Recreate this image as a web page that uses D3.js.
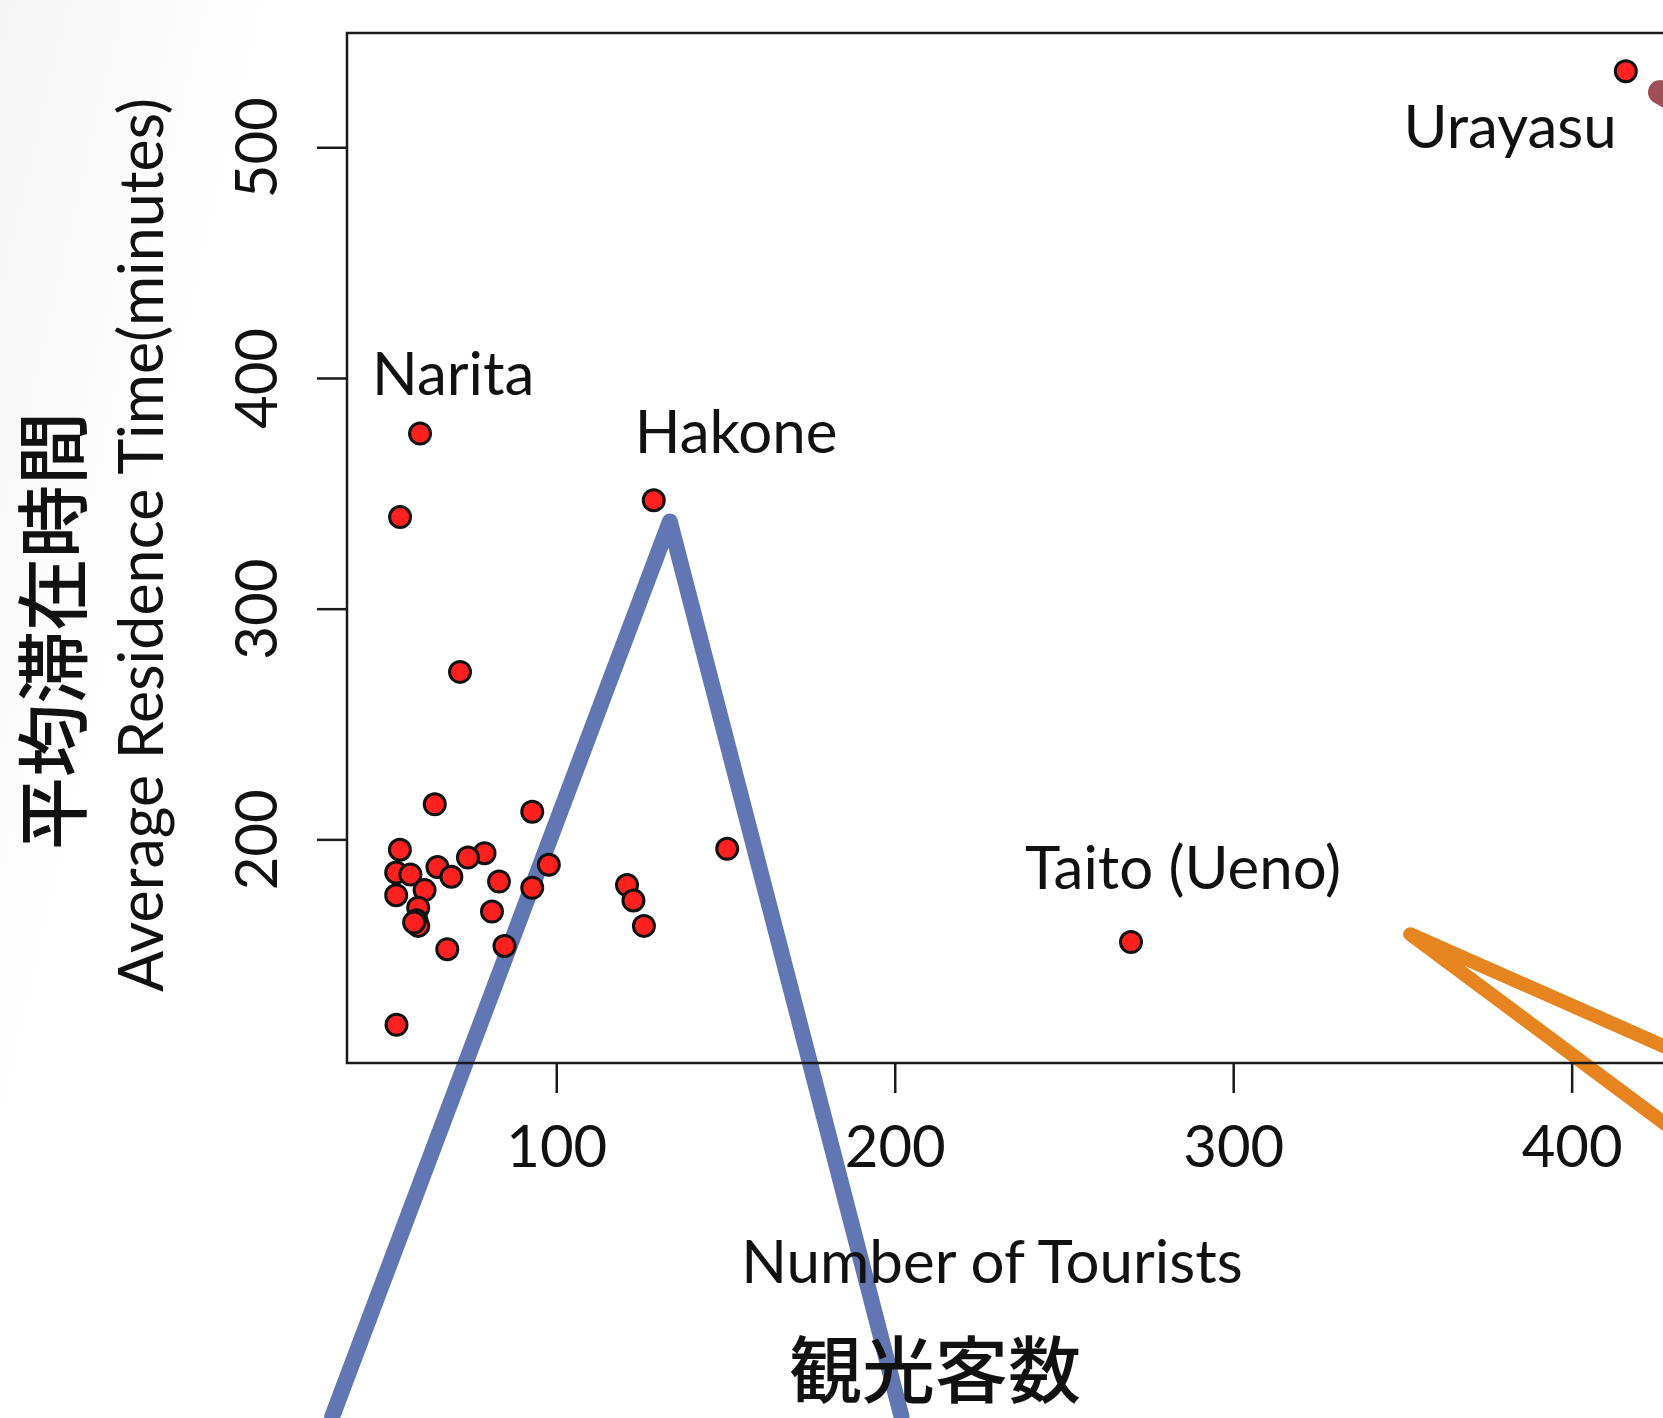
<!DOCTYPE html>
<html>
<head>
<meta charset="utf-8">
<script src="https://cdn.jsdelivr.net/npm/d3@7"></script>
<style>
  html, body { margin: 0; padding: 0; background: #fff; overflow: hidden; }
</style>
</head>
<body>
<div id="chart"></div>
<script>
// tourists (x) and average residence time in minutes (y)
const tourists = [416, 128.8, 59.75, 53.85, 71.56, 269.8, 150.5,
    64.1, 92.9, 53.8, 78.8, 73.9, 64.9, 97.8, 52.7, 56.9, 69, 83.1, 92.9, 61.1, 52.7,
    120.9, 122.8, 125.9, 59.2, 58.7, 59.2, 58, 81, 67.8, 84.7, 52.8];
const residence = [533, 347, 375.9, 339.7, 272.6, 155.5, 195.9,
    215.2, 212, 195.5, 194, 192.1, 188, 189, 185.6, 184.8, 183.8, 181.7, 179, 178, 175.8,
    180.2, 173.5, 162.5, 170.4, 164.9, 162.5, 164, 168.7, 152.4, 153.8, 119.6];
const placeNames = ['Urayasu', 'Hakone', 'Narita', '', '', 'Taito (Ueno)'];

const xTicks = [100, 200, 300, 400];
const yTicks = [200, 300, 400, 500];

// overlay strokes, in data units
const blueArrowX = [33.8, 133.55, 202.0];
const blueArrowY = [-50.2, 337.8, -50.2];
const orangeArrowX = [440, 352.3, 440];
const orangeArrowY = [102.1, 158.9, 63.2];
const redArrowX = [426.1, 437.9];
const redArrowY = [523.9, 514.0];

const W = 1663, H = 1418;
const plot = { left: 347, top: 33, bottom: 1063, right: 1675 };
const font = 'Lato, "Open Sans", sans-serif';
const cjk = '"Noto Sans CJK JP", sans-serif';

// R style 4% padding on the ranges
function padded(vals) {
    const [lo, hi] = d3.extent(vals);
    const p = (hi - lo) * 0.04;
    return [lo - p, hi + p];
}

const x = d3.scaleLinear().domain(padded(tourists)).range([plot.left, plot.right]);
const y = d3.scaleLinear().domain(padded(residence)).range([plot.bottom, plot.top]);

const svg = d3.select('#chart').append('svg')
    .attr('width', W)
    .attr('height', H)
    .style('display', 'block');

const defs = svg.append('defs');
const grad = defs.append('linearGradient')
    .attr('id', 'bg')
    .attr('x1', '0').attr('y1', '0').attr('x2', '1').attr('y2', '0.2');
grad.append('stop').attr('offset', '0').attr('stop-color', '#f5f5f5');
grad.append('stop').attr('offset', '0.16').attr('stop-color', '#ffffff');
svg.append('rect').attr('width', W).attr('height', H).attr('fill', 'url(#bg)');

// overlay lines sit underneath the chart
const line = d3.line().x(d => x(d[0])).y(d => y(d[1]));
const overlays = [
    { xs: blueArrowX, ys: blueArrowY, color: '#6176b3', width: 16 },
    { xs: orangeArrowX, ys: orangeArrowY, color: '#e6851f', width: 14 },
    { xs: redArrowX, ys: redArrowY, color: '#9e5056', width: 24 }
];
svg.selectAll('.overlay')
    .data(overlays)
    .enter()
    .append('path')
    .attr('class', 'overlay')
    .attr('d', d => line(d.xs.map((v, i) => [v, d.ys[i]])))
    .attr('fill', 'none')
    .attr('stroke', d => d.color)
    .attr('stroke-width', d => d.width)
    .attr('stroke-linecap', 'round')
    .attr('stroke-linejoin', 'round');

// box
svg.append('rect')
    .attr('x', plot.left)
    .attr('y', plot.top)
    .attr('width', plot.right - plot.left)
    .attr('height', plot.bottom - plot.top)
    .attr('fill', 'none')
    .attr('stroke', '#1a1a1a')
    .attr('stroke-width', 2.5);

const xAxis = svg.append('g')
    .attr('transform', `translate(0, ${plot.bottom})`)
    .call(d3.axisBottom(x).tickValues(xTicks).tickSize(30));
const yAxis = svg.append('g')
    .attr('transform', `translate(${plot.left}, 0)`)
    .call(d3.axisLeft(y).tickValues(yTicks).tickSize(30));

[xAxis, yAxis].forEach(a => {
    a.select('.domain').remove();
    a.selectAll('line').attr('stroke', '#1a1a1a').attr('stroke-width', 2.5);
    a.selectAll('text')
        .attr('fill', '#111')
        .style('font-family', font)
        .style('font-size', '58px');
});
xAxis.selectAll('text').attr('dy', null).attr('y', 104);
yAxis.selectAll('text')
    .attr('x', null).attr('dy', null).attr('y', null)
    .attr('text-anchor', 'middle')
    .attr('transform', `translate(${277 - plot.left}, 0) rotate(-90)`);

// axis titles
svg.append('text')
    .attr('x', 992)
    .attr('y', 1283)
    .attr('text-anchor', 'middle')
    .style('font-family', font)
    .style('font-size', '60px')
    .attr('fill', '#111')
    .text('Number of Tourists');

svg.append('text')
    .attr('x', 935)
    .attr('y', 1365)
    .attr('text-anchor', 'middle')
    .attr('dominant-baseline', 'central')
    .style('font-family', cjk)
    .style('font-size', '73px')
    .style('font-weight', 500)
    .attr('fill', '#111')
    .text('観光客数');

svg.append('text')
    .attr('transform', `translate(163, 545) rotate(-90)`)
    .attr('text-anchor', 'middle')
    .style('font-family', font)
    .style('font-size', '61px')
    .attr('fill', '#111')
    .text('Average Residence Time(minutes)');

svg.append('text')
    .attr('transform', `translate(48, 631) rotate(-90)`)
    .attr('text-anchor', 'middle')
    .attr('dominant-baseline', 'central')
    .style('font-family', cjk)
    .style('font-size', '73px')
    .style('font-weight', 500)
    .attr('fill', '#111')
    .text('平均滞在時間');

// points
const points = tourists.map((v, i) => ({ x: v, y: residence[i], name: placeNames[i] || '' }));
svg.selectAll('.dot')
    .data(points)
    .enter()
    .append('circle')
    .attr('class', 'dot')
    .attr('cx', d => x(d.x))
    .attr('cy', d => y(d.y))
    .attr('r', 10.5)
    .attr('fill', '#ff2020')
    .attr('stroke', '#111')
    .attr('stroke-width', 3);

// place labels: offset from their point in pixels
const labelOffsets = {
    'Urayasu': { dx: -9, dy: 77, anchor: 'end' },
    'Hakone': { dx: -19, dy: -47, anchor: 'start' },
    'Narita': { dx: -48, dy: -39, anchor: 'start' },
    'Taito (Ueno)': { dx: -106, dy: -53, anchor: 'start' }
};
svg.selectAll('.place')
    .data(points.filter(d => d.name))
    .enter()
    .append('text')
    .attr('class', 'place')
    .attr('x', d => x(d.x) + labelOffsets[d.name].dx)
    .attr('y', d => y(d.y) + labelOffsets[d.name].dy)
    .attr('text-anchor', d => labelOffsets[d.name].anchor)
    .style('font-family', font)
    .style('font-size', '60px')
    .attr('fill', '#111')
    .text(d => d.name);
</script>
</body>
</html>
